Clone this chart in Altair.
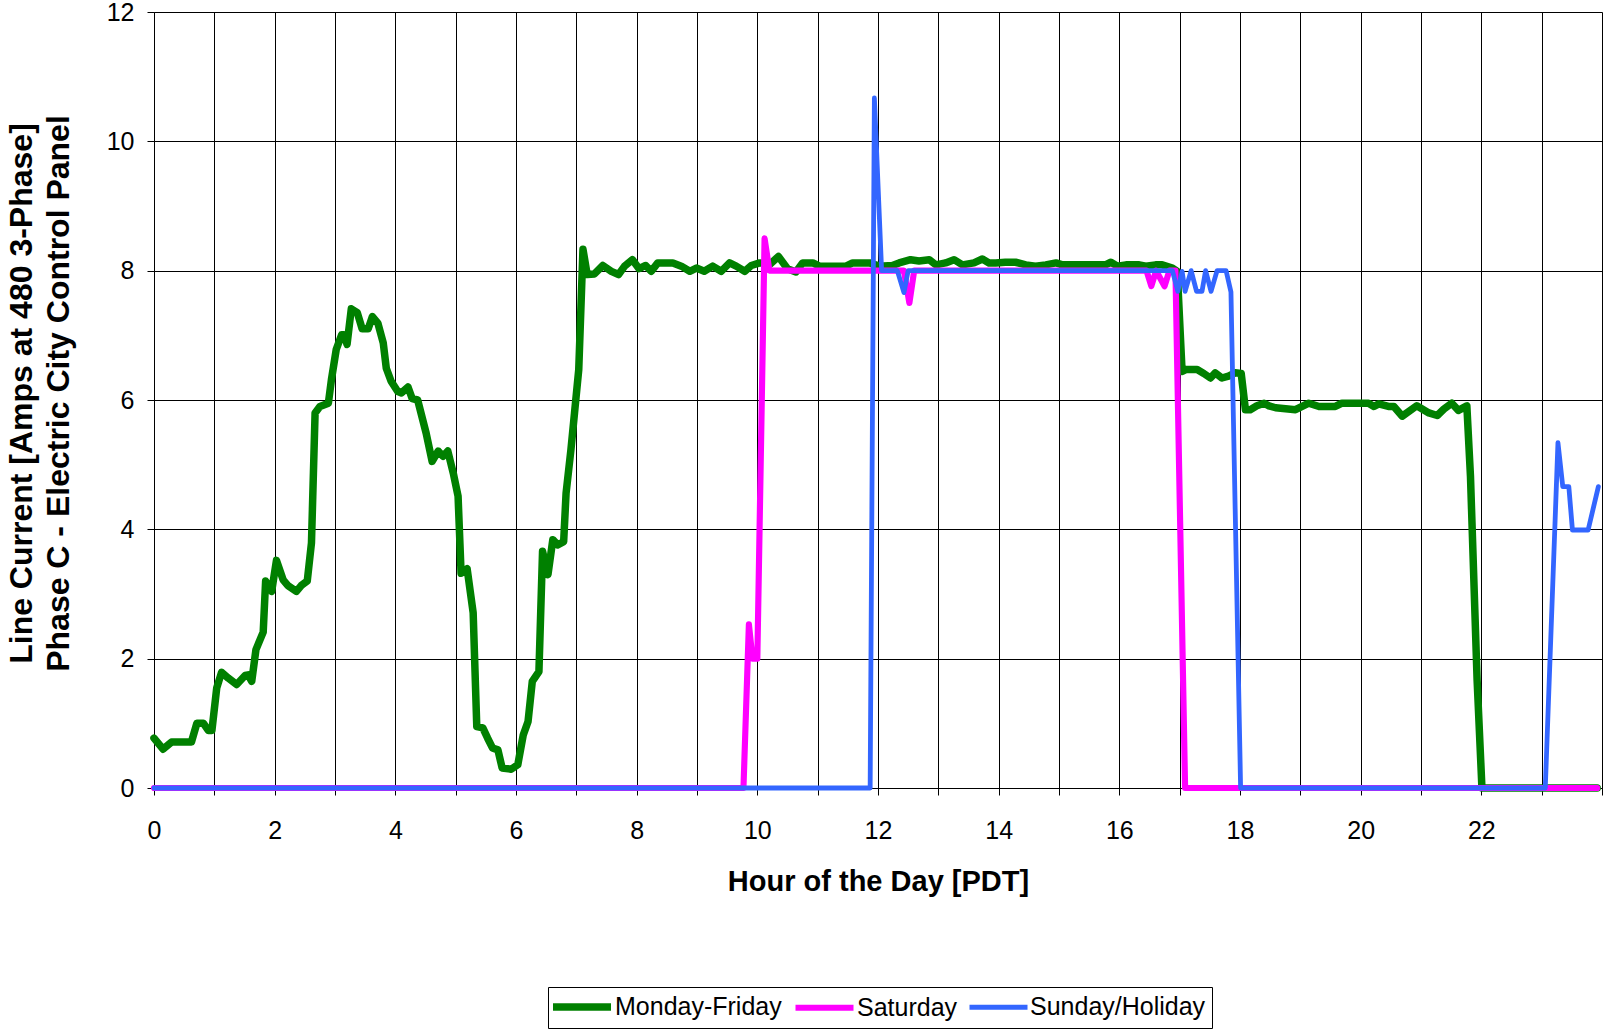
import altair as alt
import pandas as pd

series_names = ["Monday-Friday", "Saturday", "Sunday/Holiday"]
series_colors = ["#008000", "#FF00FF", "#3366FF"]
series_widths = [7.5, 4.8, 4.8]

mf_hour = [0.0, 0.15, 0.29, 0.62, 0.71, 0.82, 0.9, 0.96, 1.04, 1.12, 1.23, 1.37, 1.51, 1.56, 1.62,
           1.69, 1.81, 1.85, 1.95, 2.03, 2.14, 2.22, 2.36, 2.44, 2.54, 2.61, 2.67, 2.75, 2.89, 2.94,
           3.02, 3.11, 3.15, 3.2, 3.27, 3.37, 3.45, 3.55, 3.62, 3.71, 3.8, 3.85, 3.93, 4.04, 4.1,
           4.21, 4.28, 4.37, 4.51, 4.61, 4.71, 4.79, 4.87, 4.96, 5.04, 5.09, 5.19, 5.29, 5.35, 5.45,
           5.53, 5.61, 5.7, 5.77, 5.92, 6.03, 6.12, 6.2, 6.27, 6.38, 6.44, 6.53, 6.61, 6.69, 6.79,
           6.83, 6.91, 6.97, 7.04, 7.11, 7.18, 7.3, 7.44, 7.58, 7.7, 7.8, 7.93, 8.04, 8.15, 8.24,
           8.35, 8.6, 8.74, 8.88, 8.99, 9.12, 9.26, 9.4, 9.54, 9.65, 9.79, 9.9, 10.04, 10.2, 10.35,
           10.5, 10.64, 10.75, 10.92, 11.03, 11.47, 11.58, 11.86, 12.02, 12.24, 12.35, 12.54, 12.68,
           12.85, 12.96, 13.12, 13.26, 13.4, 13.59, 13.73, 13.84, 13.95, 14.11, 14.28, 14.45, 14.61,
           14.78, 14.95, 15.06, 15.77, 15.86, 15.97, 16.11, 16.33, 16.44, 16.6, 16.71, 16.88, 16.96,
           17.04, 17.1, 17.29, 17.4, 17.51, 17.59, 17.7, 17.81, 17.92, 18.02, 18.09, 18.17, 18.28,
           18.4, 18.48, 18.59, 18.92, 19.14, 19.31, 19.58, 19.69, 20.13, 20.22, 20.3, 20.46, 20.55,
           20.69, 20.93, 21.13, 21.27, 21.38, 21.51, 21.62, 21.76, 21.82, 21.93, 22.01, 23.92]
mf_amps = [0.77, 0.6, 0.71, 0.71, 1.0, 1.0, 0.89, 0.89, 1.55, 1.79, 1.7, 1.6, 1.74, 1.75, 1.65,
           2.14, 2.41, 3.2, 3.04, 3.52, 3.22, 3.13, 3.04, 3.13, 3.2, 3.79, 5.8, 5.9, 5.95, 6.31,
           6.78, 7.01, 7.01, 6.86, 7.41, 7.35, 7.1, 7.1, 7.29, 7.19, 6.88, 6.49, 6.29, 6.13, 6.11,
           6.2, 6.02, 6.0, 5.49, 5.05, 5.21, 5.13, 5.21, 4.87, 4.51, 3.32, 3.39, 2.71, 0.95, 0.93,
           0.77, 0.62, 0.59, 0.31, 0.29, 0.36, 0.82, 1.03, 1.65, 1.8, 3.66, 3.3, 3.84, 3.76, 3.81,
           4.56, 5.23, 5.8, 6.47, 8.33, 7.94, 7.95, 8.08, 7.99, 7.94, 8.07, 8.17, 8.03, 8.08, 7.99,
           8.12, 8.12, 8.07, 7.99, 8.04, 7.99, 8.07, 7.99, 8.12, 8.07, 7.99, 8.08, 8.12, 8.09, 8.22,
           8.03, 7.98, 8.12, 8.12, 8.07, 8.07, 8.12, 8.12, 8.07, 8.08, 8.12, 8.17, 8.15,
           8.17, 8.09, 8.12, 8.17, 8.09, 8.12, 8.18, 8.12, 8.12, 8.13, 8.13, 8.09, 8.07,
           8.09, 8.12, 8.09, 8.09, 8.13, 8.07, 8.09, 8.09, 8.07, 8.09, 8.09, 8.04, 7.99,
           6.44, 6.47, 6.47, 6.41, 6.34, 6.42, 6.34, 6.37, 6.42, 6.41, 5.85, 5.85, 5.91,
           5.95, 5.91, 5.88, 5.85, 5.95, 5.9, 5.9, 5.95, 5.95, 5.9, 5.94, 5.9, 5.9,
           5.75, 5.91, 5.8, 5.76, 5.86, 5.95, 5.84, 5.91, 4.82, 1.67, 0.0, 0.0]

sat_hour = [0.0, 9.77, 9.86, 9.92, 10.0, 10.12, 10.2, 12.43, 12.52, 12.6, 16.45, 16.53, 16.61,
            16.75, 16.83, 16.93, 17.09, 23.92]
sat_amps = [0.0, 0.0, 2.53, 2.0, 2.0, 8.5, 8.0, 8.0, 7.5, 8.0, 8.0, 7.76, 8.0,
            7.76, 8.0, 8.0, 0.0, 0.0]

sun_hour = [0.0, 11.87, 11.94, 12.06, 12.32, 12.43, 12.5, 16.88, 16.97, 17.04, 17.09, 17.19, 17.28,
            17.37, 17.43, 17.52, 17.62, 17.77, 17.85, 18.01, 23.06, 23.27, 23.35, 23.45, 23.51,
            23.77, 23.94]
sun_amps = [0.0, 0.0, 10.67, 8.0, 8.0, 7.66, 8.0, 8.0, 7.68, 7.99, 7.68, 8.0, 7.68,
            7.68, 8.0, 7.68, 8.0, 8.0, 7.67, 0.0, 0.0, 5.34, 4.66, 4.66, 3.99,
            3.99, 4.66]

x_ticks = list(range(0, 25))
y_ticks = [0, 2, 4, 6, 8, 10, 12]

frames = []
for name, hrs, amps in [(series_names[0], mf_hour, mf_amps),
                        (series_names[1], sat_hour, sat_amps),
                        (series_names[2], sun_hour, sun_amps)]:
    df = pd.DataFrame({"hour": hrs, "amps": amps})
    df["series"] = name
    df["idx"] = range(len(df))
    frames.append(df)
data = pd.concat(frames, ignore_index=True)

FONT = "Liberation Sans"

legend = alt.Legend(
    title=None, orient="none", legendX=394, legendY=975, direction="horizontal",
    symbolType="M-2.9,0H2.9", symbolSize=400, symbolOffset=14,
    labelFontSize=25, labelFont=FONT, labelLimit=400,
    labelColor="black", labelOffset=19, columnPadding=1, padding=6,
    strokeColor="black", fillColor="white",
)

xaxis = alt.Axis(
    values=x_ticks, grid=True, gridColor="#000000", gridWidth=1, domainColor="#000000",
    tickColor="#000000", tickSize=7, labelFontSize=25, labelFont=FONT, labelColor="black",
    labelPadding=23, labelExpr="(datum.value % 2 == 0 && datum.value < 24) ? datum.label : ''",
    title="Hour of the Day [PDT]", titleFont=FONT, titleFontSize=29, titleFontWeight="bold",
    titleColor="black", titleBaseline="alphabetic", titleY=102, titleX=724, labelFlush=False,
)
yaxis = alt.Axis(
    values=y_ticks, grid=True, gridColor="#000000", gridWidth=1, domainColor="#000000",
    tickColor="#000000", tickSize=7, labelFontSize=25, labelFont=FONT, labelColor="black",
    labelPadding=13, labelBaseline="middle",
    title=["Line Current [Amps at 480 3-Phase]", "Phase C - Electric City Control Panel"],
    titleFont=FONT, titleFontSize=32, titleFontWeight="bold", titleColor="black",
    titleAngle=-90, titleBaseline="top", titleX=-148, titleY=381, titleLineHeight=37,
    titleAlign="center",
)

base = alt.Chart(data).mark_line(strokeJoin="round", strokeCap="round").encode(
    x=alt.X("hour:Q", scale=alt.Scale(domain=[0, 24], nice=False, zero=False), axis=xaxis),
    y=alt.Y("amps:Q", scale=alt.Scale(domain=[0, 12], nice=False), axis=yaxis),
    color=alt.Color("series:N", scale=alt.Scale(domain=series_names, range=series_colors),
                    legend=legend),
    strokeWidth=alt.StrokeWidth("series:N",
                                scale=alt.Scale(domain=series_names, range=series_widths),
                                legend=legend),
    order="idx:Q",
)

layers = [base.transform_filter(alt.datum.series == n) for n in series_names]

chart = alt.layer(*layers).properties(
    width=1448, height=776, autosize="none",
    padding={"left": 154, "top": 12, "right": 2, "bottom": 241},
).configure_view(stroke="#808080", strokeWidth=1).configure(background="white")

chart.save("out.html", embed_options={"renderer": "svg", "actions": False})
